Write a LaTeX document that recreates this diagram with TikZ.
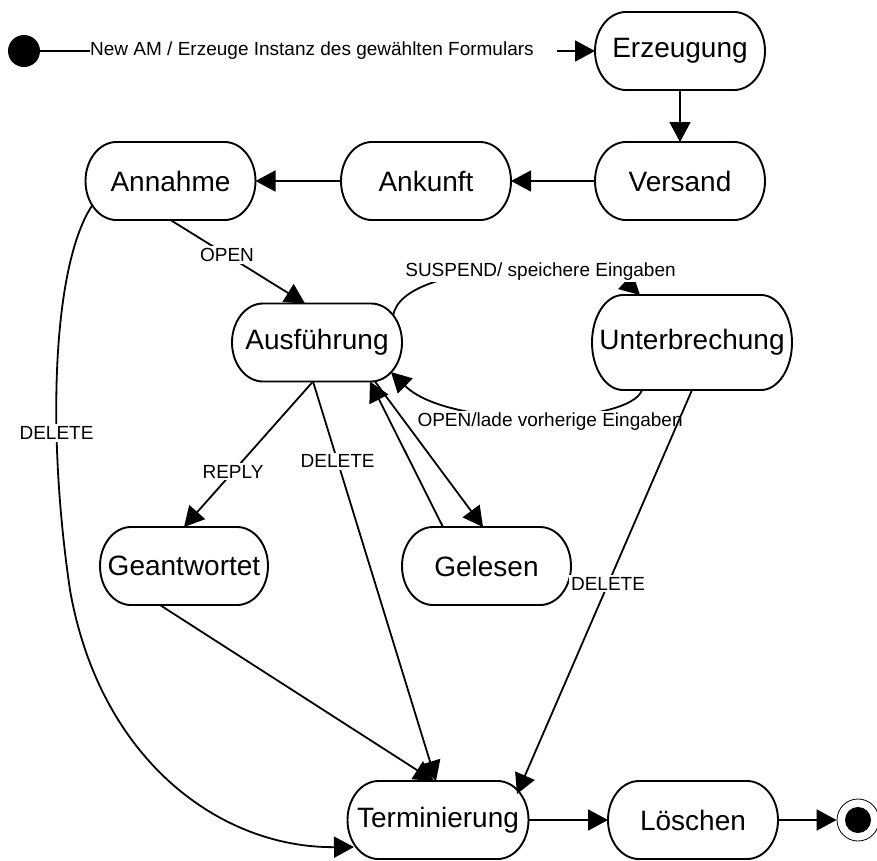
\documentclass[tikz,border=0pt]{standalone}
\usepackage{fontspec}
\setmainfont{Liberation Sans}
\usetikzlibrary{arrows.meta,calc}

% outline of a state: straight top and bottom, half-ellipse ends (depth 31pt)
\newcommand\stateoutline[1]{%
  \draw[stateline] ([xshift=31pt]#1.north west) -- ([xshift=-31pt]#1.north east)
    .. controls ([xshift=-13.88pt]#1.north east) and ($(#1.east)!0.5523!(#1.north east)$) .. (#1.east)
    .. controls ($(#1.east)!0.5523!(#1.south east)$) and ([xshift=-13.88pt]#1.south east) .. ([xshift=-31pt]#1.south east)
    -- ([xshift=31pt]#1.south west)
    .. controls ([xshift=13.88pt]#1.south west) and ($(#1.west)!0.5523!(#1.south west)$) .. (#1.west)
    .. controls ($(#1.west)!0.5523!(#1.north west)$) and ([xshift=13.88pt]#1.north west) .. cycle;}

\begin{document}
\begin{tikzpicture}[x=1pt,y=-1pt,
  stateline/.style={line width=1.9pt},
  statebox/.style={rectangle,inner sep=0pt,outer sep=0pt,minimum height=78pt,
    minimum width=170pt,font=\fontsize{28}{32}\selectfont},
  conn/.style={line width=1.8pt},
  arr/.style={conn,-{Triangle[length=20pt,width=21pt]}},
  elabel/.style={fill=white,inner sep=2pt,font=\fontsize{19}{22}\selectfont}]
\useasboundingbox (0,0) rectangle (877,860);

% states
\node[statebox] (erz) at (680,51) {Erzeugung};
\node[statebox] (ver) at (680,181) {Versand};
\node[statebox] (ank) at (426,181) {Ankunft};
\node[statebox] (ann) at (170.5,181) {Annahme};
\node[statebox] (aus) at (317,342.5) {Ausführung};
\node[statebox,minimum width=200pt,minimum height=95pt] (unt) at (692,342.5) {Unterbrechung};
\node[statebox,minimum width=168pt] (gea) at (184,566) {Geantwortet};
\node[statebox,minimum width=169pt] (gel) at (486.5,566) {Gelesen};
\node[statebox,minimum width=181pt] (ter) at (438,820) {Terminierung};
\node[statebox] (loe) at (693,820) {Löschen};
\foreach \s in {erz,ver,ank,ann,aus,unt,gea,gel,ter,loe} {\stateoutline{\s}}

% initial and final pseudo-states
\node[circle,fill=black,minimum size=32pt,inner sep=0pt] (init) at (24,51) {};
\node[circle,draw,line width=0.8pt,minimum size=42pt,inner sep=0pt] (fin) at (858,820) {};
\node[circle,fill=black,minimum size=26pt,inner sep=0pt] (findot) at (858,820) {};

% initial transition
\node[font=\fontsize{19}{22}\selectfont,inner sep=0pt,anchor=west] (newam) at (90,51)
  {New AM / Erzeuge Instanz des gewählten Formulars};
\draw[conn] (init) -- (newam.west);
\draw[arr] ([xshift=23pt]newam.east) -- (erz.west);

% main flow
\draw[arr] (erz.south) -- (ver.north);
\draw[arr] (ver.west) -- (ank.east);
\draw[arr] (ank.west) -- (ann.east);
\draw[arr] (ann.south) -- node[elabel,pos=0.42]{OPEN} ([xshift=-12pt]aus.north);
\draw[arr] ([shift={(-78pt,-24pt)}]ann.center) .. controls (55,260) and (45,420) .. (70,590)
  node[elabel,pos=0.68]{DELETE}
  .. controls (100,760) and (220,848) .. ([shift={(-84pt,-27pt)}]ter.center);

% suspend / resume
\draw[arr] ([shift={(76pt,26.5pt)}]aus.center) .. controls (402,258) and (605,262) ..
  node[elabel,pos=0.6]{SUSPEND/ speichere Eingaben} ([xshift=-52pt]unt.north);
\draw[arr] ([xshift=-50pt]unt.south) .. controls (630,425) and (450,430) ..
  node[elabel,pos=0.45,yshift=-6pt]{OPEN/lade vorherige Eingaben} ([shift={(74pt,-29.5pt)}]aus.center);

% from Ausführung
\draw[arr] ([xshift=-4pt]aus.south) -- node[elabel,pos=0.62]{REPLY} (gea.north);
\draw[arr] ([xshift=-4pt]aus.south) -- node[elabel,pos=0.2]{DELETE} ([xshift=-2pt]ter.north);
\draw[arr] ([xshift=-24pt]gea.south) -- ([xshift=-4pt]ter.north);
\draw[arr] ([xshift=-43.5pt]gel.north) -- ([xshift=53pt]aus.south);
\draw[arr] ([xshift=58pt]aus.south) -- ([xshift=-3.5pt]gel.north);

% towards the end
\draw[arr] (unt.south) -- node[elabel,pos=0.48]{DELETE} ([shift={(79pt,26pt)}]ter.center);
\draw[arr] (ter.east) -- (loe.west);
\draw[arr] (loe.east) -- (fin);
\end{tikzpicture}
\end{document}
